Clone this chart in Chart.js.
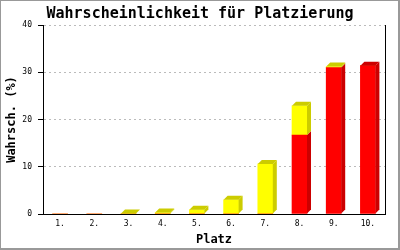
<!DOCTYPE html>
<html>
<head>
<meta charset="utf-8">
<script src="https://cdn.jsdelivr.net/npm/chart.js@4"></script>
<style>
  body { margin: 0; background: #fff; }
  #wrap { width: 400px; height: 250px; }
</style>
</head>
<body>
<div id="wrap"><canvas id="myChart" width="400" height="250"></canvas></div>
<script>
var places = ["1.", "2.", "3.", "4.", "5.", "6.", "7.", "8.", "9.", "10."];
var redValues = [0, 0, 0, 0, 0, 0, 0, 16.7, 31.0, 31.4];
var yellowValues = [0, 0, 0.1, 0.3, 0.9, 3.0, 10.6, 6.2, 0.2, 0];
var yTicks = [0, 10, 20, 30, 40];

var mono = "'DejaVu Sans Mono', 'Liberation Mono', monospace";
var depth = 4;

// white background + grey frame around the picture
const framePlugin = {
  id: 'frame',
  beforeDraw(chart) {
    const ctx = chart.ctx;
    ctx.save();
    ctx.fillStyle = '#fff';
    ctx.fillRect(0, 0, chart.width, chart.height);
    ctx.fillStyle = '#999';
    ctx.fillRect(0, 0, chart.width, 1);
    ctx.fillRect(0, 0, 1, chart.height);
    ctx.fillRect(chart.width - 2, 0, 2, chart.height);
    ctx.fillRect(0, chart.height - 2, chart.width, 2);
    ctx.restore();
  }
};

// side and top faces for the 3d look
const depthPlugin = {
  id: 'depth',
  afterDatasetsDraw(chart) {
    const ctx = chart.ctx;
    const sets = chart.data.datasets;
    ctx.save();
    sets.forEach(function (ds, di) {
      const meta = chart.getDatasetMeta(di);
      meta.data.forEach(function (bar, i) {
        if (!ds.data[i]) return;
        const p = bar.getProps(['x', 'y', 'base', 'width'], true);
        const l = p.x - p.width / 2, r = p.x + p.width / 2;
        const top = Math.min(p.y, p.base), bot = Math.max(p.y, p.base);
        ctx.fillStyle = ds.sideColor;
        ctx.beginPath();
        ctx.moveTo(r, top);
        ctx.lineTo(r + depth, top - depth);
        ctx.lineTo(r + depth, bot - depth);
        ctx.lineTo(r, bot);
        ctx.closePath();
        ctx.fill();
        // top face only on the highest segment
        let above = false;
        for (let k = di + 1; k < sets.length; k++) if (sets[k].data[i]) above = true;
        if (!above) {
          ctx.beginPath();
          ctx.moveTo(l, top);
          ctx.lineTo(l + depth, top - depth);
          ctx.lineTo(r + depth, top - depth);
          ctx.lineTo(r, top);
          ctx.closePath();
          ctx.fill();
        }
      });
    });
    ctx.restore();
  }
};

new Chart("myChart", {
  type: "bar",
  data: {
    labels: places,
    datasets: [{
      label: "rot",
      data: redValues,
      backgroundColor: "#ff0000",
      sideColor: "#cc0000",
      barThickness: 15
    }, {
      label: "gelb",
      data: yellowValues,
      backgroundColor: "#ffff00",
      sideColor: "#cccc00",
      barThickness: 15
    }]
  },
  plugins: [framePlugin, depthPlugin],
  options: {
    responsive: false,
    animation: false,
    layout: { padding: 0 },
    plugins: {
      legend: { display: false },
      tooltip: { enabled: false },
      title: {
        display: true,
        text: "Wahrscheinlichkeit für Platzierung",
        color: "#000",
        font: { family: mono, size: 15, weight: "bold" },
        padding: { top: 5, bottom: 2 }
      }
    },
    scales: {
      x: {
        stacked: true,
        grid: { display: false, drawTicks: false },
        border: { color: "#000", width: 1 },
        ticks: { color: "#000", font: { family: mono, size: 8 }, padding: 5, maxRotation: 0 },
        title: {
          display: true,
          text: "Platz",
          color: "#000",
          font: { family: mono, size: 12, weight: "bold" },
          padding: { top: 0, bottom: 3 }
        },
        afterFit: function (s) { s.height = 36; }
      },
      y: {
        stacked: true,
        min: 0,
        max: 40,
        afterBuildTicks: function (s) { s.ticks = yTicks.map(function (v) { return { value: v }; }); },
        grid: {
          color: "#bbbbbb",
          tickColor: "#000",
          tickBorderDash: [],
          tickLength: 5
        },
        border: { color: "#000", width: 1, dash: [2, 3] },
        ticks: { color: "#000", font: { family: mono, size: 8 }, padding: 6 },
        title: {
          display: true,
          text: "Wahrsch. (%)",
          color: "#000",
          font: { family: mono, size: 12, weight: "bold" },
          padding: { top: 5, bottom: 0 }
        },
        afterFit: function (s) { s.width = 43; }
      },
      // empty right axis: gives the right border line and the margin
      yRight: {
        position: "right",
        min: 0,
        max: 40,
        grid: { display: false, drawTicks: false },
        border: { color: "#000", width: 1 },
        ticks: { display: false },
        afterFit: function (s) { s.width = 15; }
      }
    }
  }
});
</script>
</body>
</html>
